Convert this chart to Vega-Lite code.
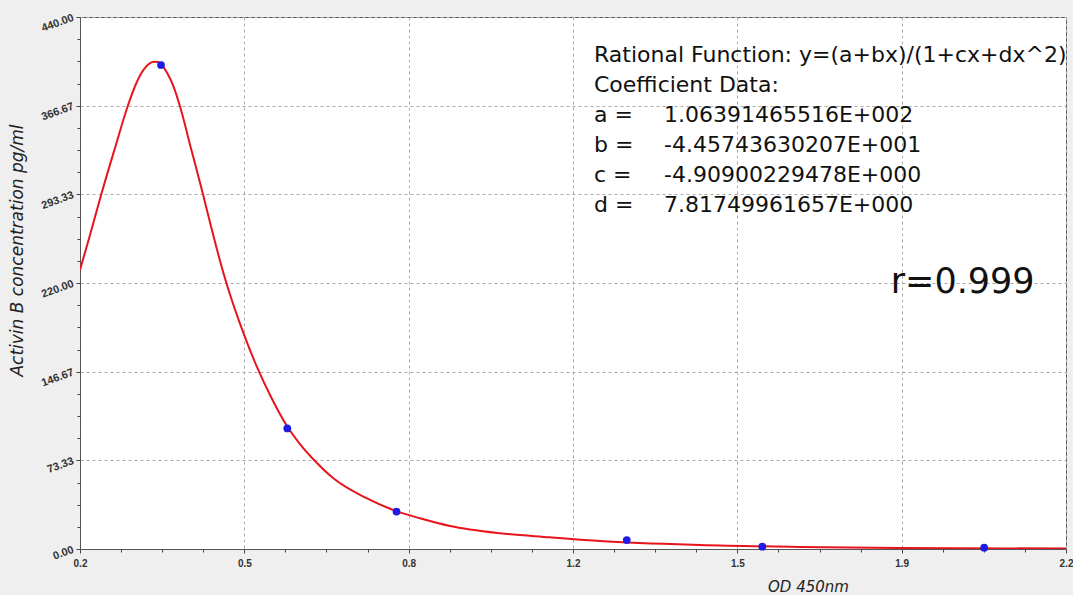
{
  "$schema": "https://vega.github.io/schema/vega-lite/v6.json",
  "width": 986,
  "height": 532,
  "autosize": {"type": "none"},
  "padding": {"left": 80, "top": 17, "right": 7, "bottom": 46},
  "background": "#efefef",
  "config": {
    "view": {"fill": "white", "stroke": "#555", "strokeWidth": 1},
    "axis": {"domainColor": "#555", "tickColor": "#444", "labelColor": "#333", "titleColor": "#222"}
  },
  "datasets": {
    "curve": [
      {"od": 0.2000, "conc": 230.8},
      {"od": 0.2203, "conc": 259.7},
      {"od": 0.2432, "conc": 293.4},
      {"od": 0.2710, "conc": 331.7},
      {"od": 0.2974, "conc": 367.0},
      {"od": 0.3142, "conc": 385.2},
      {"od": 0.3243, "conc": 393.4},
      {"od": 0.3414, "conc": 401.7},
      {"od": 0.3501, "conc": 403.0},
      {"od": 0.3582, "conc": 402.8},
      {"od": 0.3643, "conc": 401.1},
      {"od": 0.3771, "conc": 393.4},
      {"od": 0.3886, "conc": 383.7},
      {"od": 0.4022, "conc": 367.0},
      {"od": 0.4252, "conc": 331.2},
      {"od": 0.4495, "conc": 293.4},
      {"od": 0.4698, "conc": 260.3},
      {"od": 0.4921, "conc": 226.6},
      {"od": 0.5306, "conc": 179.5},
      {"od": 0.5611, "conc": 148.5},
      {"od": 0.5895, "conc": 124.1},
      {"od": 0.6199, "conc": 101.7},
      {"od": 0.6462, "conc": 86.8},
      {"od": 0.6767, "conc": 72.8},
      {"od": 0.7133, "conc": 58.7},
      {"od": 0.7822, "conc": 41.8},
      {"od": 0.8430, "conc": 31.1},
      {"od": 0.8896, "conc": 25.4},
      {"od": 0.9505, "conc": 19.0},
      {"od": 1.0519, "conc": 13.0},
      {"od": 1.1534, "conc": 9.7},
      {"od": 1.2548, "conc": 6.6},
      {"od": 1.4576, "conc": 3.3},
      {"od": 1.6604, "conc": 1.7},
      {"od": 1.8633, "conc": 0.8},
      {"od": 2.2000, "conc": 0.4}
    ],
    "points": [
      {"od": 0.3643, "conc": 400.3},
      {"od": 0.6205, "conc": 99.7},
      {"od": 0.8420, "conc": 31.0},
      {"od": 1.3090, "conc": 7.4},
      {"od": 1.5840, "conc": 1.9},
      {"od": 2.0340, "conc": 1.1}
    ],
    "notes": [
      {"od": 1.2426, "conc": 402.8, "text": "Rational Function: y=(a+bx)/(1+cx+dx^2)"},
      {"od": 1.2426, "conc": 378.0, "text": "Coefficient Data:"},
      {"od": 1.2426, "conc": 353.1, "text": "a ="},
      {"od": 1.2426, "conc": 328.3, "text": "b ="},
      {"od": 1.2426, "conc": 303.5, "text": "c ="},
      {"od": 1.2426, "conc": 278.7, "text": "d ="},
      {"od": 1.3846, "conc": 353.1, "text": "1.06391465516E+002"},
      {"od": 1.3846, "conc": 328.3, "text": "-4.45743630207E+001"},
      {"od": 1.3846, "conc": 303.5, "text": "-4.90900229478E+000"},
      {"od": 1.3846, "conc": 278.7, "text": "7.81749961657E+000"}
    ],
    "rval": [
      {"od": 1.8444, "conc": 211.5, "text": "r=0.999"}
    ]
  },
  "resolve": {"axis": {"x": "independent", "y": "independent"}},
  "layer": [
    {
      "data": {"name": "curve"},
      "mark": {"type": "line", "color": "#e8141c", "strokeWidth": 2, "interpolate": "monotone", "clip": true},
      "encoding": {
        "x": {
          "field": "od", "type": "quantitative",
          "scale": {"domain": [0.2, 2.2], "nice": false, "zero": false},
          "axis": {
            "orient": "bottom",
            "values": [0.2, 0.53333, 0.86667, 1.2, 1.53333, 1.86667, 2.2],
            "labelExpr": "datum.value < 0.3 ? '0.2' : datum.value < 0.6 ? '0.5' : datum.value < 1 ? '0.8' : datum.value < 1.3 ? '1.2' : datum.value < 1.6 ? '1.5' : datum.value < 2 ? '1.9' : '2.2'",
            "grid": true, "gridDash": [3, 3], "gridColor": "#aaaaaa", "gridWidth": 1,
            "tickSize": 4, "labelFont": "Liberation Sans", "labelFontWeight": "bold", "labelFontSize": 10,
            "labelPadding": 5, "labelFlush": false, "labelOverlap": false,
            "title": "OD 450nm", "titleFont": "DejaVu Sans", "titleFontStyle": "italic", "titleFontWeight": "normal",
            "titleFontSize": 15, "titleX": 728, "titleY": 42, "titleAlign": "center", "titleBaseline": "alphabetic"
          }
        },
        "y": {
          "field": "conc", "type": "quantitative",
          "scale": {"domain": [0, 440], "nice": false},
          "axis": {
            "orient": "left",
            "values": [0, 73.333, 146.667, 220, 293.333, 366.667, 440],
            "format": ".2f",
            "grid": true, "gridDash": [3, 3], "gridColor": "#aaaaaa", "gridWidth": 1,
            "tickSize": 4, "labelFont": "Liberation Sans", "labelFontWeight": "bold", "labelFontSize": 11,
            "labelAngle": -20, "labelAlign": "right", "labelBaseline": "middle", "labelPadding": 3,
            "labelOverlap": false, "labelFlush": false,
            "title": "Activin B concentration pg/ml", "titleFont": "DejaVu Sans", "titleFontStyle": "italic",
            "titleFontWeight": "normal", "titleFontSize": 17, "titleX": -63, "titleY": 233, "titleAngle": 270,
            "titleAlign": "center", "titleBaseline": "middle"
          }
        }
      }
    },
    {
      "data": {"name": "points"},
      "mark": {"type": "point", "filled": true, "shape": "circle", "color": "#1c1ce6", "size": 60, "opacity": 1},
      "encoding": {
        "x": {
          "field": "od", "type": "quantitative",
          "axis": {
            "orient": "bottom",
            "values": [0.28333, 0.36667, 0.45, 0.61667, 0.7, 0.78333, 0.95, 1.03333, 1.11667, 1.28333, 1.36667, 1.45, 1.61667, 1.7, 1.78333, 1.95, 2.03333, 2.11667],
            "labels": false, "grid": false, "domain": false, "tickSize": 3, "title": null
          }
        },
        "y": {
          "field": "conc", "type": "quantitative",
          "axis": {
            "orient": "left",
            "values": [18.333, 36.667, 55, 91.667, 110, 128.333, 165, 183.333, 201.667, 238.333, 256.667, 275, 311.667, 330, 348.333, 385, 403.333, 421.667],
            "labels": false, "grid": false, "domain": false, "tickSize": 3, "title": null
          }
        }
      }
    },
    {
      "data": {"name": "notes"},
      "mark": {"type": "text", "align": "left", "baseline": "alphabetic", "font": "DejaVu Sans", "fontSize": 22, "color": "#111"},
      "encoding": {
        "x": {"field": "od", "type": "quantitative", "axis": null},
        "y": {"field": "conc", "type": "quantitative", "axis": null},
        "text": {"field": "text"}
      }
    },
    {
      "data": {"name": "rval"},
      "mark": {"type": "text", "align": "left", "baseline": "alphabetic", "font": "DejaVu Sans", "fontSize": 35, "color": "#111"},
      "encoding": {
        "x": {"field": "od", "type": "quantitative", "axis": null},
        "y": {"field": "conc", "type": "quantitative", "axis": null},
        "text": {"field": "text"}
      }
    }
  ]
}
